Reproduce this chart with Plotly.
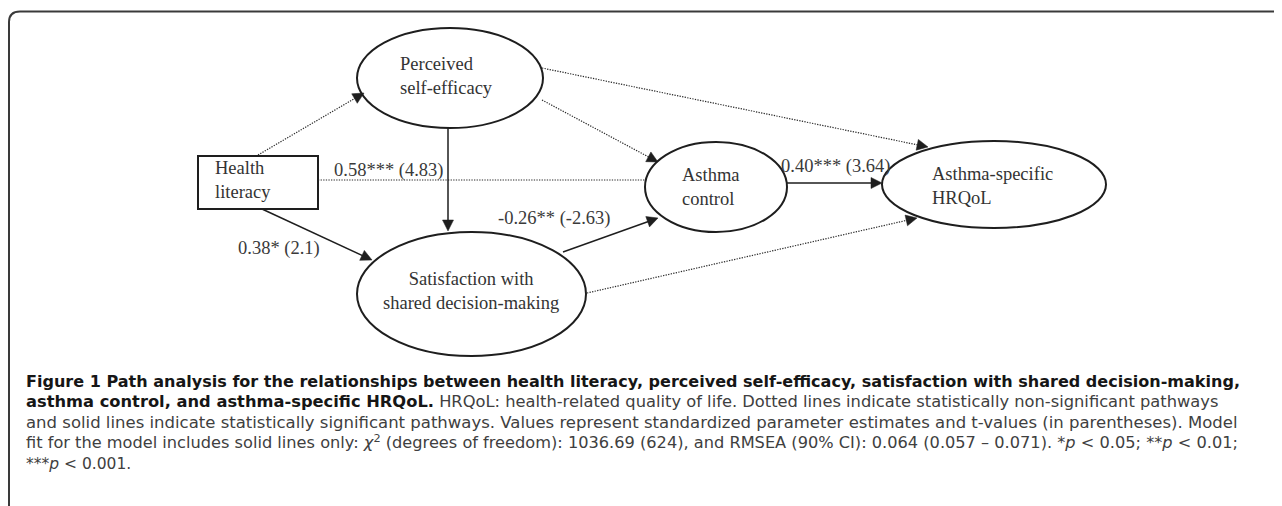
import math
import plotly.graph_objects as go

# ---------------- data ----------------
node_ids = ["HL", "PSE", "SDM", "AC", "QOL"]
node_labels = ["Health<br>literacy", "Perceived<br>self-efficacy",
               "Satisfaction with<br>shared decision-making",
               "Asthma<br>control", "Asthma-specific<br>HRQoL"]
node_kinds = ["box", "ellipse", "ellipse", "ellipse", "ellipse"]

edge_from = ["HL", "HL", "HL", "PSE", "PSE", "PSE", "SDM", "SDM", "AC"]
edge_to = ["PSE", "AC", "SDM", "SDM", "AC", "QOL", "AC", "QOL", "QOL"]
edge_significant = [False, False, True, True, False, False, True, False, True]
edge_estimate = [None, "0.58***", "0.38*", None, None, None, "-0.26**", None, "0.40***"]
edge_tvalue = [None, "4.83", "2.1", None, None, None, "-2.63", None, "3.64"]

B = "<span style='color:#161616'><b>"
BE = "</b></span>"
caption_lines = [
    B + "Figure 1 Path analysis for the relationships between health literacy, perceived self-efficacy, satisfaction with shared decision-making," + BE,
    B + "asthma control, and asthma-specific HRQoL." + BE + " HRQoL: health-related quality of life. Dotted lines indicate statistically non-significant pathways",
    "and solid lines indicate statistically significant pathways. Values represent standardized parameter estimates and t-values (in parentheses). Model",
    "fit for the model includes solid lines only: <i>χ</i><sup>2</sup> (degrees of freedom): 1036.69 (624), and RMSEA (90% CI): 0.064 (0.057 – 0.071). *<i>p</i> &lt; 0.05; **<i>p</i> &lt; 0.01;",
    "***<i>p</i> &lt; 0.001.",
]

# ---------------- layout geometry (page pixels) ----------------
W, H = 1282, 506
OFF = 8  # default page body margin
node_bounds = {"HL": (198, 156, 318, 209), "PSE": (357, 28, 543, 128),
               "SDM": (357, 232, 586, 356), "AC": (645, 142, 787, 232),
               "QOL": (882, 141, 1106, 228)}
node_text_pos = {"HL": (213, 180, "left"), "PSE": (398, 75.5, "left"),
                 "SDM": (471, 290.5, "center"), "AC": (680, 187, "left"),
                 "QOL": (930, 186, "left")}
edge_geom = {("HL", "PSE"): (258, 155, 364, 93), ("HL", "AC"): (318, 180, 645, 180),
             ("HL", "SDM"): (262, 209, 372, 260), ("PSE", "SDM"): (448, 128, 448, 231),
             ("PSE", "AC"): (542, 100, 658, 162), ("PSE", "QOL"): (542, 68, 928, 147),
             ("SDM", "AC"): (563, 252, 658, 218), ("SDM", "QOL"): (587, 293, 917, 218),
             ("AC", "QOL"): (787, 183, 882, 183)}
edge_has_head = {("HL", "AC"): False}
edge_label_pos = {("HL", "AC"): (388, 170), ("HL", "SDM"): (279, 248),
                  ("SDM", "AC"): (554, 218), ("AC", "QOL"): (835, 166)}
caption_center_y = 422.5
caption_base_size = 15.75
caption_line_size = [16.05, 16.3, 16.5, 16.2, 15.5]

LINE = "#1e1e1e"
TXT = "#333333"

fig = go.Figure()
shapes = []
annotations = []

# frame (top + left border with rounded corner)
shapes.append(dict(type="path", path=f"M 9,{H} L 9,22 Q 9,11.5 20,11.5 L {W},11.5",
                   line=dict(color="#3a3a3a", width=2)))

# nodes
for nid, lab, kind in zip(node_ids, node_labels, node_kinds):
    x0, y0, x1, y1 = node_bounds[nid]
    shapes.append(dict(type="rect" if kind == "box" else "circle",
                       x0=x0, y0=y0, x1=x1, y1=y1,
                       line=dict(color=LINE, width=2), fillcolor="rgba(0,0,0,0)"))
    tx, ty, al = node_text_pos[nid]
    annotations.append(dict(x=tx, y=ty, text=lab, showarrow=False,
                            xanchor=al, yanchor="middle", align=al,
                            font=dict(family="Liberation Serif", size=18.5, color=TXT)))

# edges
def head_path(x0, y0, x1, y1, L=11, hw=5.5):
    d = math.hypot(x1 - x0, y1 - y0)
    ux, uy = (x1 - x0) / d, (y1 - y0) / d
    bx, by = x1 - ux * L, y1 - uy * L
    px, py = -uy * hw, ux * hw
    return f"M {x1},{y1} L {bx+px},{by+py} L {bx-px},{by-py} Z"

for s, t, sig, est, tv in zip(edge_from, edge_to, edge_significant, edge_estimate, edge_tvalue):
    x0, y0, x1, y1 = edge_geom[(s, t)]
    head = edge_has_head.get((s, t), True)
    d = math.hypot(x1 - x0, y1 - y0)
    ex, ey = x1, y1
    if head:
        ex = x1 - (x1 - x0) / d * 8
        ey = y1 - (y1 - y0) / d * 8
    shapes.append(dict(type="line", x0=x0, y0=y0, x1=ex, y1=ey,
                       line=dict(color=LINE if sig else "#2a2a2a",
                                 width=1.5 if sig else 1.2,
                                 dash="solid" if sig else "1.3px,1.3px")))
    if head:
        shapes.append(dict(type="path", path=head_path(x0, y0, x1, y1),
                           fillcolor=LINE, line=dict(color=LINE, width=0.5)))
    if est is not None:
        lx, ly = edge_label_pos[(s, t)]
        annotations.append(dict(x=lx, y=ly, text=f"{est} ({tv})", showarrow=False,
                                xanchor="center", yanchor="middle",
                                font=dict(family="Liberation Serif", size=18.5, color="#3a3a3a")))

# caption (one text block, each line sized to fill the justified width)
caption_text = "<br>".join(f"<span style='font-size:{fs}px'>{ln}</span>"
                           for ln, fs in zip(caption_lines, caption_line_size))
annotations.append(dict(x=25, y=caption_center_y, text=caption_text, showarrow=False,
                        borderpad=0, xanchor="left", yanchor="middle", align="left",
                        font=dict(family="DejaVu Sans", size=caption_base_size, color="#404040")))

fig.update_layout(width=W - OFF, height=H - OFF, margin=dict(l=0, r=0, t=0, b=0),
                  paper_bgcolor="white", plot_bgcolor="white",
                  xaxis=dict(range=[OFF, W], visible=False, fixedrange=True),
                  yaxis=dict(range=[H, OFF], visible=False, fixedrange=True),
                  shapes=shapes, annotations=annotations, showlegend=False)

fig.write_html("out.html", config={"displayModeBar": False})
